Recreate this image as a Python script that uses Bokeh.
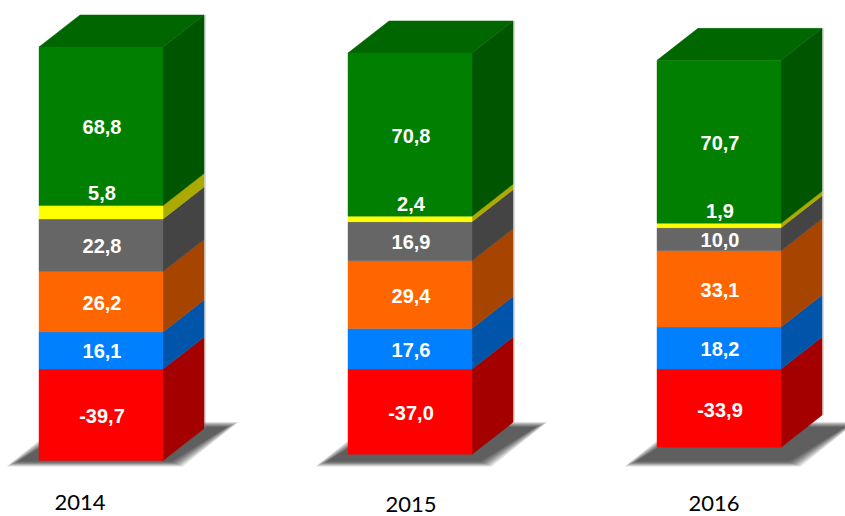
from bokeh.plotting import figure
from bokeh.models import Range1d
from bokeh.core.properties import value
from bokeh.embed import file_html
from bokeh.resources import INLINE

years = ["2014", "2015", "2016"]
v_red = [-39.7, -37.0, -33.9]
v_blue = [16.1, 17.6, 18.2]
v_orange = [26.2, 29.4, 33.1]
v_grey = [22.8, 16.9, 10.0]
v_yellow = [5.8, 2.4, 1.9]
v_green = [68.8, 70.8, 70.7]
positive = [v_blue, v_orange, v_grey, v_yellow, v_green]
pos_front = ["#007FFF", "#FF6600", "#666666", "#FFFF00", "#007F00"]
pos_side = ["#0055AA", "#A64400", "#444444", "#AAAA00", "#005500"]
red_front, red_side = "#FF0000", "#A50000"
top_color = "#006600"

# Scale / layout (screen px -> data units)
W, H = 845, 516
PX_X = 309.0           # px per category step
PX_Y = 2.305           # px per value unit
ORIGIN_X, ORIGIN_Y = 100.5, 368.5  # bar-0 centre and zero line inside the figure
BAR_W = 124 / PX_X
DX = 41 / PX_X         # 3D depth
DY = 32 / PX_Y
FLOOR_FRONT = -(463.5 - ORIGIN_Y) / PX_Y
FLOOR_BACK = -(424 - ORIGIN_Y) / PX_Y
SHADOW_L, SHADOW_R = 27 / PX_X, 14 / PX_X

p = figure(width=W, height=H, toolbar_location=None, output_backend="svg",
           x_range=Range1d(-ORIGIN_X / PX_X, (W - ORIGIN_X) / PX_X),
           y_range=Range1d((ORIGIN_Y - H) / PX_Y, ORIGIN_Y / PX_Y),
           min_border=0, outline_line_color=None, background_fill_color="white",
           border_fill_color="white")
p.axis.visible = False
p.grid.visible = False

# Soft floor shadows: stacked polygons
for i in range(3):
    left, right = i - BAR_W / 2, i + BAR_W / 2
    for d in (3, 2, 1, 0, -1, -2, -3):
        ex, ey = d * 1.8 / PX_X, d * 0.8 / PX_Y
        xs = [left - SHADOW_L - ex, right + SHADOW_R + ex, right + SHADOW_R + 56 / PX_X + ex, left - SHADOW_L + 56 / PX_X - ex]
        ys = [FLOOR_FRONT - ey, FLOOR_FRONT - ey, FLOOR_BACK + ey, FLOOR_BACK + ey]
        p.patch(xs, ys, fill_color="black", fill_alpha=0.13, line_color=None)

front_left, front_right, front_bottom, front_top, front_col = [], [], [], [], []
side_x, side_y, side_col = [], [], []
top_x, top_y = [], []
lab_x, lab_y, lab_t, lab_off = [], [], [], []
edge_x, edge_y0, edge_y1 = [], [], []


def fmt(v):
    return f"{v:.1f}".replace(".", ",")


for i in range(3):
    left, right = i - BAR_W / 2, i + BAR_W / 2
    segs = [(v_red[i], 0.0, red_front, red_side)]
    base = 0.0
    for vals, fc, sc in zip(positive, pos_front, pos_side):
        segs.append((base + vals[i], base, fc, sc))
        base += vals[i]
    for n, (a, b, fc, sc) in enumerate(segs):
        lo, hi = min(a, b), max(a, b)
        front_left.append(left); front_right.append(right)
        front_bottom.append(lo); front_top.append(hi); front_col.append(fc)
        side_x.append([right, right + DX, right + DX, right])
        side_y.append([lo, lo + DY, hi + DY, hi])
        side_col.append(sc)
        if n == 4:  # thin yellow band: its label sits just above it
            lab_x.append(i); lab_y.append(hi); lab_off.append(-12.5)
            lab_t.append(fmt(hi - lo))
    top_x.append([left, right, right + DX, left + DX])
    top_y.append([base, base, base + DY, base + DY])
    edge_x.append(right + DX + 1 / PX_X)
    edge_y0.append(v_red[i] + DY)
    edge_y1.append(base + DY)

    cum = 0.0
    lab_x.append(i); lab_y.append(v_red[i] / 2); lab_t.append(fmt(v_red[i])); lab_off.append(1.5)
    for vals, name in zip(positive, ["b", "o", "g", "y", "gr"]):
        if name != "y":
            lab_x.append(i); lab_y.append(cum + vals[i] / 2); lab_t.append(fmt(vals[i])); lab_off.append(1)
        cum += vals[i]

p.segment(x0=edge_x, y0=edge_y0, x1=edge_x, y1=edge_y1, line_color="#8a9a8a", line_alpha=0.45, line_width=1.5)
p.patches(side_x, side_y, fill_color=side_col, line_color=side_col, line_width=0.5)
p.patches(top_x, top_y, fill_color=top_color, line_color=top_color, line_width=0.5)
p.quad(left=front_left, right=front_right, bottom=front_bottom, top=front_top,
       fill_color=front_col, line_color=front_col, line_alpha=0.4, line_width=1)

p.text(x=lab_x, y=lab_y, text=lab_t, text_color="white", text_font=value("Liberation Sans"),
       text_font_style="bold", text_font_size="20px", text_align="center",
       text_baseline="middle", y_offset=lab_off, x_offset=1)

# Year captions sit at uneven positions in the source
year_x_off = [-21, 1, -5]
year_y = [502, 504, 502.5]
p.text(x=[0, 1, 2], y=[(ORIGIN_Y - v) / PX_Y for v in year_y], text=years, text_color="#000000",
       text_font=value("Lato"), text_font_size="22px", text_align="center",
       text_baseline="middle", x_offset=year_x_off, text_line_height=0.9)

open("out.html", "w").write(file_html(p, INLINE))
